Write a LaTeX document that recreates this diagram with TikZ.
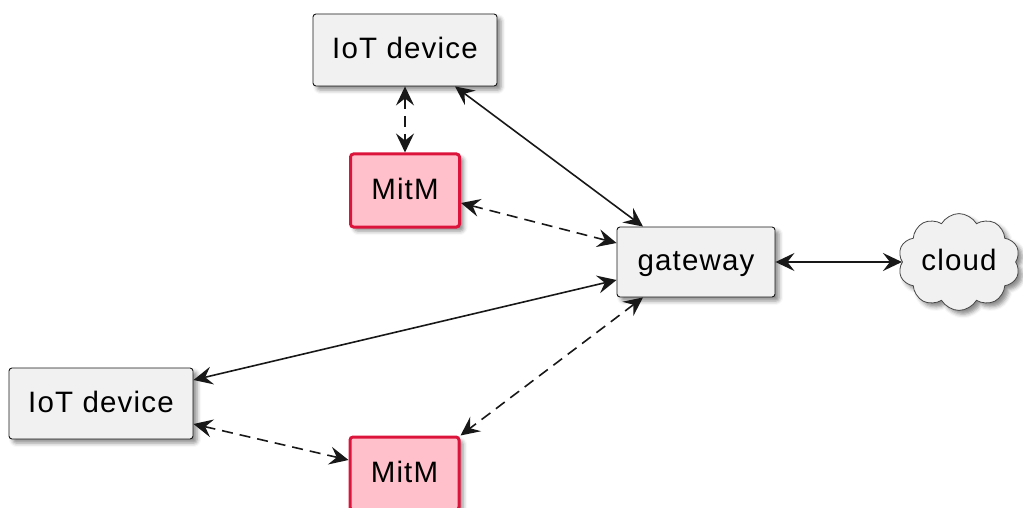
\documentclass[tikz,border=0pt]{standalone}
\usepackage{fontspec}
\setmainfont{Liberation Sans}[LetterSpace=4]
\usetikzlibrary{arrows.meta,shapes.symbols,shadows.blur,calc}

\definecolor{boxfill}{HTML}{F1F1F1}
\definecolor{boxline}{HTML}{181818}
\definecolor{mitmfill}{HTML}{FFC0CB}
\definecolor{mitmline}{HTML}{DC143C}

\tikzset{
  x=1pt, y=1pt,
  softshadow/.style={blur shadow={shadow xshift=4pt, shadow yshift=-4pt,
      shadow blur radius=4pt, shadow opacity=45}},
  labeltext/.style={font=\fontsize{29.5}{32}\selectfont, text height=22pt, text depth=4.6pt},
  devbox/.style={draw=boxline, line width=0.9pt, fill=boxfill, rounded corners=3pt,
      labeltext, softshadow, inner sep=0pt},
  attacker/.style={devbox, draw=mitmline, fill=mitmfill, line width=3pt},
  cloudnode/.style={cloud, cloud puffs=10, cloud puff arc=120, aspect=1.3,
      draw=boxline!80, line width=0.8pt, fill=boxfill, softshadow,
      minimum width=122pt, minimum height=95pt, inner sep=0pt, labeltext},
  link/.style={draw=boxline, line width=1.6pt,
      >={Stealth[length=19pt, width=18pt, inset=7pt]}, <->},
  tapped/.style={link, dash pattern=on 11pt off 7pt},
}

\begin{document}
\begin{tikzpicture}
\useasboundingbox (0,0) rectangle (1023,-508);

% nodes
\node[devbox, minimum width=184pt, minimum height=72pt] (iota) at (405,-50) {IoT device};
\node[attacker, minimum width=109pt, minimum height=73pt] (mitma) at (405,-190.5) {MitM};
\node[devbox, minimum width=158pt, minimum height=70pt] (gw) at (696,-262) {gateway};
\node[cloudnode] (cl) at (959,-262) {cloud};
\node[devbox, minimum width=184pt, minimum height=71pt] (iotb) at (101,-403.5) {IoT device};
\node[attacker, minimum width=109pt, minimum height=73pt] (mitmb) at (404.5,-473.5) {MitM};

% direct links
\draw[link] ([xshift=50pt]iota.south) -- ([xshift=-53pt]gw.north);
\draw[link] ([yshift=-18pt]gw.west) -- ([yshift=23.5pt]iotb.east);
\draw[link] (gw.east) -- (cl.west);

% intercepted links
\draw[tapped] (iota.south) -- (mitma.north);
\draw[tapped] ([yshift=-12.5pt]mitma.east) -- ([yshift=19pt]gw.west);
\draw[tapped] ([xshift=-53pt]gw.south) -- (mitmb.north east);
\draw[tapped] ([yshift=-20.5pt]iotb.east) -- ([yshift=13.5pt]mitmb.west);
\end{tikzpicture}
\end{document}
